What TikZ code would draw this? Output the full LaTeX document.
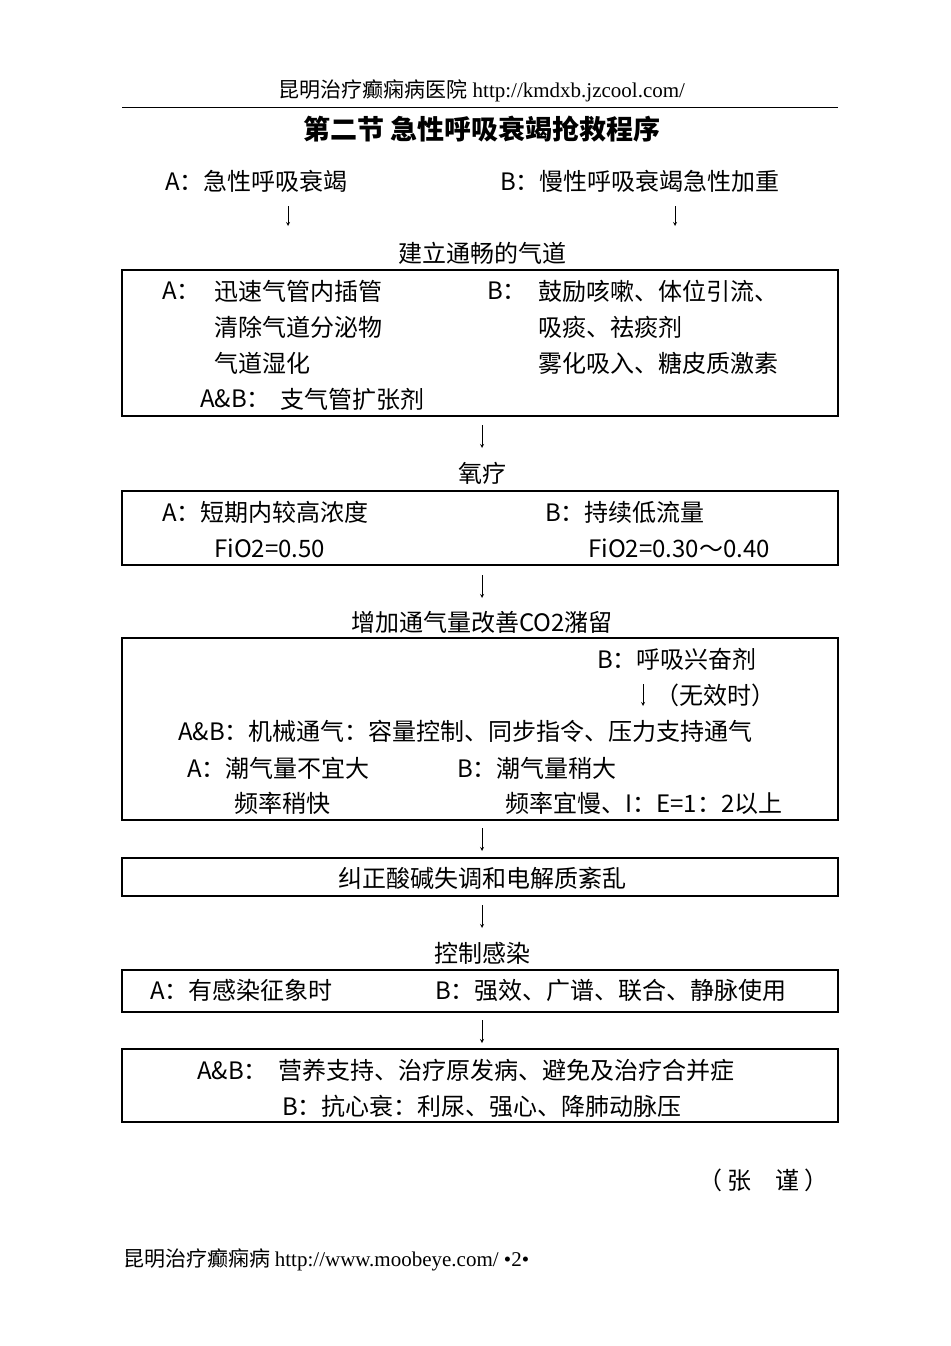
\documentclass[tikz,border=0pt]{standalone}
\usepackage{fontspec}
\setmainfont{Noto Sans CJK SC}
\newfontfamily\lat{Liberation Serif}
\begin{document}
\begin{tikzpicture}[x=1pt,y=-1pt,
 t/.style={anchor=west,inner sep=0pt,font=\fontsize{24}{26}\selectfont},
 c/.style={inner sep=0pt,font=\fontsize{24}{26}\selectfont},
 box/.style={draw,line width=1.3pt},
 arr/.style={-stealth,line width=0.8pt}]
\useasboundingbox (0,0) rectangle (950,1346);
\node[c,font=\fontsize{21}{23}\selectfont] (hdr) at (482,91) {昆明治疗癫痫病医院 {\lat http://kmdxb.jzcool.com/}};
\draw[line width=1pt] (122,107) coordinate (h1) -- (838,107) coordinate (h2);
\node[c,font=\bfseries\fontsize{27}{29}\selectfont] (title) at (482,129) {第二节 急性呼吸衰竭抢救程序};
\node[t] (a0) at (165,181) {A：急性呼吸衰竭};
\node[t] (b0) at (500,181) {B：慢性呼吸衰竭急性加重};
\coordinate (a1) at (288,206); \coordinate (a2) at (288,226);
\coordinate (b1) at (675,206); \coordinate (b2) at (675,226);
\draw[arr] (a1) -- (a2); \draw[arr] (b1) -- (b2);
\node[c] (s1) at (482,253) {建立通畅的气道};
\draw[box] (122,270) rectangle (838,416);
\node[t] at (162,291) {A：}; \node[t] at (214,291) {迅速气管内插管};
\node[t] at (487,291) {B：}; \node[t] at (538,291) {鼓励咳嗽、体位引流、};
\node[t] at (214,327) {清除气道分泌物}; \node[t] at (538,327) {吸痰、祛痰剂};
\node[t] at (214,363) {气道湿化}; \node[t] at (538,363) {雾化吸入、糖皮质激素};
\node[t] at (200,399) {A\&B：}; \node[t] at (280,399) {支气管扩张剂};
\coordinate (c1) at (482,425); \coordinate (c2) at (482,448); \draw[arr] (c1) -- (c2);
\node[c] (s2) at (482,473) {氧疗};
\draw[box] (122,491) rectangle (838,565);
\node[t] at (162,512) {A：短期内较高浓度}; \node[t] at (545,512) {B：持续低流量};
\node[t] at (214,548) {FiO2=0.50}; \node[t] at (588,548) {FiO2=0.30～0.40};
\coordinate (d1) at (482,575); \coordinate (d2) at (482,598); \draw[arr] (d1) -- (d2);
\node[c] (s3) at (482,622) {增加通气量改善CO2潴留};
\draw[box] (122,638) rectangle (838,820);
\node[t] at (597,659) {B：呼吸兴奋剂};
\coordinate (e1) at (643,684); \coordinate (e2) at (643,706); \draw[arr] (e1) -- (e2);
\node[t] at (655,695) {（无效时）};
\node[t] at (178,731) {A\&B：机械通气：容量控制、同步指令、压力支持通气};
\node[t] at (187,768) {A：潮气量不宜大}; \node[t] at (457,768) {B：潮气量稍大};
\node[t] at (234,803) {频率稍快}; \node[t] at (505,803) {频率宜慢、I：E=1：2以上};
\coordinate (f1) at (482,828); \coordinate (f2) at (482,851); \draw[arr] (f1) -- (f2);
\draw[box] (122,858) rectangle (838,896);
\node[c] (s4) at (482,878) {纠正酸碱失调和电解质紊乱};
\coordinate (g1) at (482,905); \coordinate (g2) at (482,928); \draw[arr] (g1) -- (g2);
\node[c] (s5) at (482,953) {控制感染};
\draw[box] (122,970) rectangle (838,1012);
\node[t] at (150,990) {A：有感染征象时}; \node[t] at (435,990) {B：强效、广谱、联合、静脉使用};
\coordinate (k1) at (482,1020); \coordinate (k2) at (482,1043); \draw[arr] (k1) -- (k2);
\draw[box] (122,1049) rectangle (838,1122);
\node[t] at (197,1070) {A\&B：\ \ 营养支持、治疗原发病、避免及治疗合并症};
\node[c] at (482,1106) {B：抗心衰：利尿、强心、降肺动脉压};
\node[t] at (698,1180) {（ 张\quad 谨 ）};
\node[t,font=\fontsize{21}{23}\selectfont] at (123,1260) {昆明治疗癫痫病 {\lat http://www.moobeye.com/ •2•}};
\end{tikzpicture}
\end{document}
